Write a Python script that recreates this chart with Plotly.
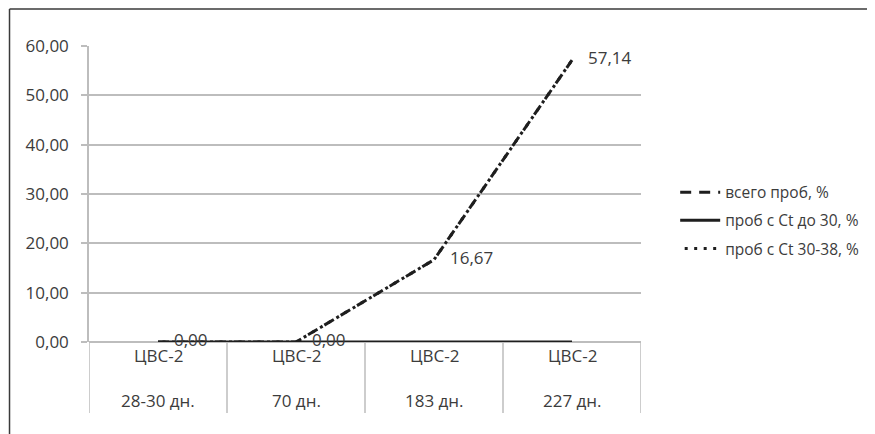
import plotly.graph_objects as go

categories = ["28-30 дн.", "70 дн.", "183 дн.", "227 дн."]
group_labels = ["ЦВС-2", "ЦВС-2", "ЦВС-2", "ЦВС-2"]
total = [0.00, 0.00, 16.67, 57.14]
ct_to_30 = [0.00, 0.00, 0.00, 0.00]
ct_30_38 = [0.00, 0.00, 16.67, 57.14]
series_names = ["всего проб, %", "проб с Ct до 30, %", "проб с Ct 30-38, %"]
label_text = ["0,00", "0,00", "16,67", "57,14"]
y_ticks = [0, 10, 20, 30, 40, 50, 60]

FONT = "Open Sans"
TXT = "#3c3c3c"
LINE = "#1e1e1e"
GRID = "#bdbdbd"
FS = 17

fig = go.Figure()
fig.add_trace(go.Scatter(
    x=categories, y=total, name=series_names[0], mode="lines",
    line=dict(color=LINE, width=3, dash="11px,8px"),
    legendgroup="a", cliponaxis=False,
))
fig.add_trace(go.Scatter(
    x=categories, y=ct_to_30, name=series_names[1], mode="lines",
    line=dict(color=LINE, width=3), legendgroup="b", cliponaxis=False,
))
fig.add_trace(go.Scatter(
    x=categories, y=ct_30_38, name=series_names[2], mode="lines",
    line=dict(color=LINE, width=3, dash="0px,4.5px,3px,2px"),
    legendgroup="c", cliponaxis=False,
))
# data labels for the first series
fig.add_trace(go.Scatter(
    x=categories, y=total, mode="markers+text", showlegend=False,
    marker=dict(size=24, opacity=0), hoverinfo="skip",
    text=label_text, textposition="middle right",
    textfont=dict(family=FONT, size=FS, color=TXT), cliponaxis=False,
))

# category labels (two rows)
for i, (g, c) in enumerate(zip(group_labels, categories)):
    fig.add_annotation(x=i, y=-0.044, xref="x", yref="paper", text=g,
                       showarrow=False, yanchor="middle",
                       font=dict(family=FONT, size=FS, color=TXT))
    fig.add_annotation(x=i, y=-0.199, xref="x", yref="paper", text=c,
                       showarrow=False, yanchor="middle",
                       font=dict(family=FONT, size=FS, color=TXT))

# category dividers
for k in range(len(categories) + 1):
    fig.add_shape(type="line", xref="x", yref="paper",
                  x0=k - 0.5, x1=k - 0.5, y0=0, y1=-0.24,
                  line=dict(color=GRID, width=1.5))

# outer frame (left and top edges visible)
fig.add_shape(type="line", xref="paper", yref="paper",
              x0=-0.144, x1=1.5, y0=1.125, y1=1.125,
              line=dict(color="#3a3a3a", width=1.5))
fig.add_shape(type="line", xref="paper", yref="paper",
              x0=-0.144, x1=-0.144, y0=1.125, y1=-0.5,
              line=dict(color="#3a3a3a", width=1.5))

fig.update_layout(
    width=867, height=426,
    margin=dict(l=81, r=233, t=38, b=92),
    paper_bgcolor="white", plot_bgcolor="white",
    separators=", ",
    font=dict(family=FONT, size=FS, color=TXT),
    showlegend=True,
    legend=dict(x=1.06, xanchor="left", y=0.41, yanchor="middle",
                traceorder="grouped", tracegroupgap=5, itemwidth=40,
                font=dict(family=FONT, size=15.5, color=TXT),
                bgcolor="rgba(0,0,0,0)"),
    xaxis=dict(range=[-0.5, 3.5], showticklabels=False, showgrid=False,
               zeroline=False, showline=False, ticks=""),
    yaxis=dict(range=[0, 60], tickvals=y_ticks, tickformat=".2f",
               showgrid=True, gridcolor=GRID, gridwidth=1.5,
               zeroline=True, zerolinecolor=GRID, zerolinewidth=1.5,
               showline=True, linecolor=GRID, linewidth=1.5,
               ticks="outside", ticklen=6, tickcolor=GRID, tickwidth=1.5,
               ticklabelstandoff=9,
               tickfont=dict(family=FONT, size=FS, color=TXT)),
)

fig.write_html("out.html")
